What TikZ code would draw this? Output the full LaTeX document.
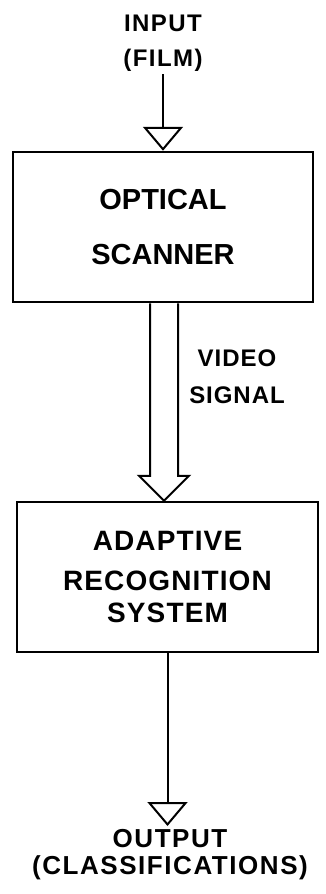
\documentclass[tikz,border=0pt]{standalone}
\usepackage{fontspec}
\setmainfont{Liberation Sans}
\usetikzlibrary{arrows.meta, calc}

\tikzset{
  blockbox/.style={draw=black, line width=2.5pt, minimum width=300pt, minimum height=150pt, align=center, font=\bfseries\fontsize{29}{55}\selectfont},
  tagtext/.style={align=center, inner sep=3pt, font=\bfseries\fontsize{24}{35}\selectfont\addfontfeature{LetterSpace=6}},
  flowline/.style={line width=2pt, line join=miter},
  openhead/.style={-{Triangle[open, length=24pt, width=40pt]}}
}

\begin{document}
\begin{tikzpicture}[x=1pt, y=1pt]
  \useasboundingbox (0,0) rectangle (326,-894);

  % Nodes
  \node[tagtext] (input) at (163,-43) {INPUT\\(FILM)};
  \node[blockbox] (scanner) at (163,-227) {OPTICAL\\SCANNER};
  \node[tagtext, font=\bfseries\fontsize{24}{37}\selectfont\addfontfeature{LetterSpace=4}] (video) at (237,-377) {VIDEO\\SIGNAL};
  \node[blockbox, minimum width=301pt, font=\bfseries\fontsize{28}{36}\selectfont\addfontfeature{LetterSpace=4}] (recog) at (167.5,-577) {ADAPTIVE\\[4pt]RECOGNITION\\[-4pt]SYSTEM};
  \node[tagtext, anchor=north, font=\bfseries\fontsize{26}{27}\selectfont\addfontfeature{LetterSpace=6}] (output) at (170,-826) {OUTPUT\\(CLASSIFICATIONS)};

  % Arrows
  \draw[flowline, openhead] (input.south) -- (input.south |- scanner.north);
  \draw[flowline] ($(scanner.south)+(-13,0)$) -- ($(scanner.south |- recog.north)+(-13,25)$) -- ++(-11,0)
    -- ($(scanner.south |- recog.north)+(1,0)$) -- ($(scanner.south |- recog.north)+(26,25)$) -- ++(-11,0)
    -- ($(scanner.south)+(15,0)$);
  \draw[flowline, openhead] (recog.south) -- (recog.south |- output.north);

\end{tikzpicture}
\end{document}
